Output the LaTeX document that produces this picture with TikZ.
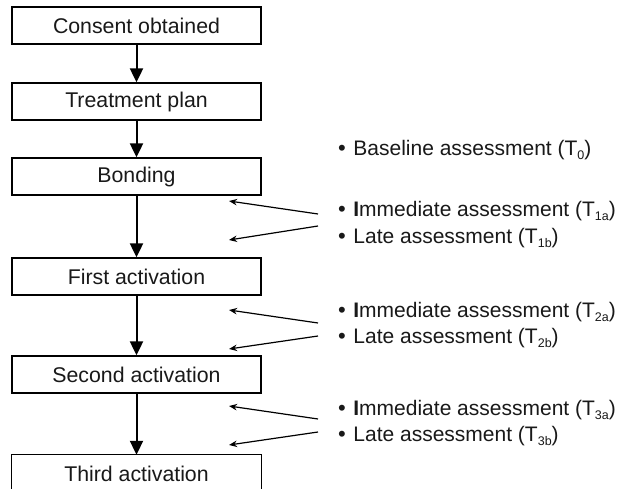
\documentclass[tikz,border=0pt]{standalone}
\usepackage{fontspec}
\setmainfont{Liberation Sans}
\usetikzlibrary{arrows.meta,calc}
\tikzset{
  stepbox/.style={draw=black, line width=1.3pt, minimum width=249pt, minimum height=37pt, inner sep=0pt, font=\fontsize{21.3}{24}\selectfont, text=black!90},
  openbox/.style={minimum width=249pt, minimum height=37pt, inner sep=0pt, font=\fontsize{21.3}{24}\selectfont, text=black!90},
  flow/.style={draw=black, line width=2pt, -{Triangle[width=13pt,length=14pt]}},
  note/.style={anchor=west, inner sep=0pt, font=\fontsize{21}{24}\selectfont, text=black!90},
  thin/.style={draw=black, line width=1.2pt, -{Stealth[width=6.5pt,length=8pt]}}
}
\newcommand{\bul}{{\fontsize{22}{24}\selectfont\textbullet}\hspace{7.5pt}}
\newcommand{\sbs}[1]{\raisebox{-4.5pt}{\fontsize{12.5}{12}\selectfont #1}}
\begin{document}
\begin{tikzpicture}[x=1pt,y=-1pt]
\useasboundingbox (0,0) rectangle (624,489);
\fill[white] (0,0) rectangle (624,489);
% boxes
\node[stepbox] (b1) at (136.5,25.5) {Consent obtained};
\node[stepbox] (b2) at (136.5,101.5) {Treatment plan};
\node[stepbox] (b3) at (136.5,176.5) {Bonding};
\node[stepbox] (b4) at (136.5,276.5) {First activation};
\node[stepbox] (b5) at (136.5,374.5) {Second activation};
\node[openbox] (b6) at (136.5,473.5) {Third activation};
\draw[draw=black, line width=1.3pt] (b6.south west) -- (b6.north west) -- (b6.north east) -- (b6.south east);
% vertical arrows
\draw[flow] (b1) -- (b2);
\draw[flow] (b2) -- (b3);
\draw[flow] (b3) -- (b4);
\draw[flow] (b4) -- (b5);
\draw[flow] (b5) -- (b6);
% notes
\node[note] (t0) at (338,150) {\bul Baseline assessment (T\sbs{0})};
\node[note] (t1a) at (338,211) {\bul\textbf{I}mmediate assessment (T\sbs{1a})};
\node[note] (t1b) at (338,238) {\bul Late assessment (T\sbs{1b})};
\node[note] (t2a) at (338,312) {\bul\textbf{I}mmediate assessment (T\sbs{2a})};
\node[note] (t2b) at (338,338) {\bul Late assessment (T\sbs{2b})};
\node[note] (t3a) at (338,410) {\bul\textbf{I}mmediate assessment (T\sbs{3a})};
\node[note] (t3b) at (338,436) {\bul Late assessment (T\sbs{3b})};
% arrow coordinates
\coordinate (s1a) at (318,214); \coordinate (e1a) at (229,201);
\coordinate (s1b) at (318,226); \coordinate (e1b) at (229,240);
\coordinate (s2a) at (318,323); \coordinate (e2a) at (229,310);
\coordinate (s2b) at (318,336); \coordinate (e2b) at (229,349);
\coordinate (s3a) at (318,419); \coordinate (e3a) at (229,406);
\coordinate (s3b) at (318,432); \coordinate (e3b) at (229,445);
\draw[thin] (s1a) -- (e1a);
\draw[thin] (s1b) -- (e1b);
\draw[thin] (s2a) -- (e2a);
\draw[thin] (s2b) -- (e2b);
\draw[thin] (s3a) -- (e3a);
\draw[thin] (s3b) -- (e3b);
\end{tikzpicture}
\end{document}
